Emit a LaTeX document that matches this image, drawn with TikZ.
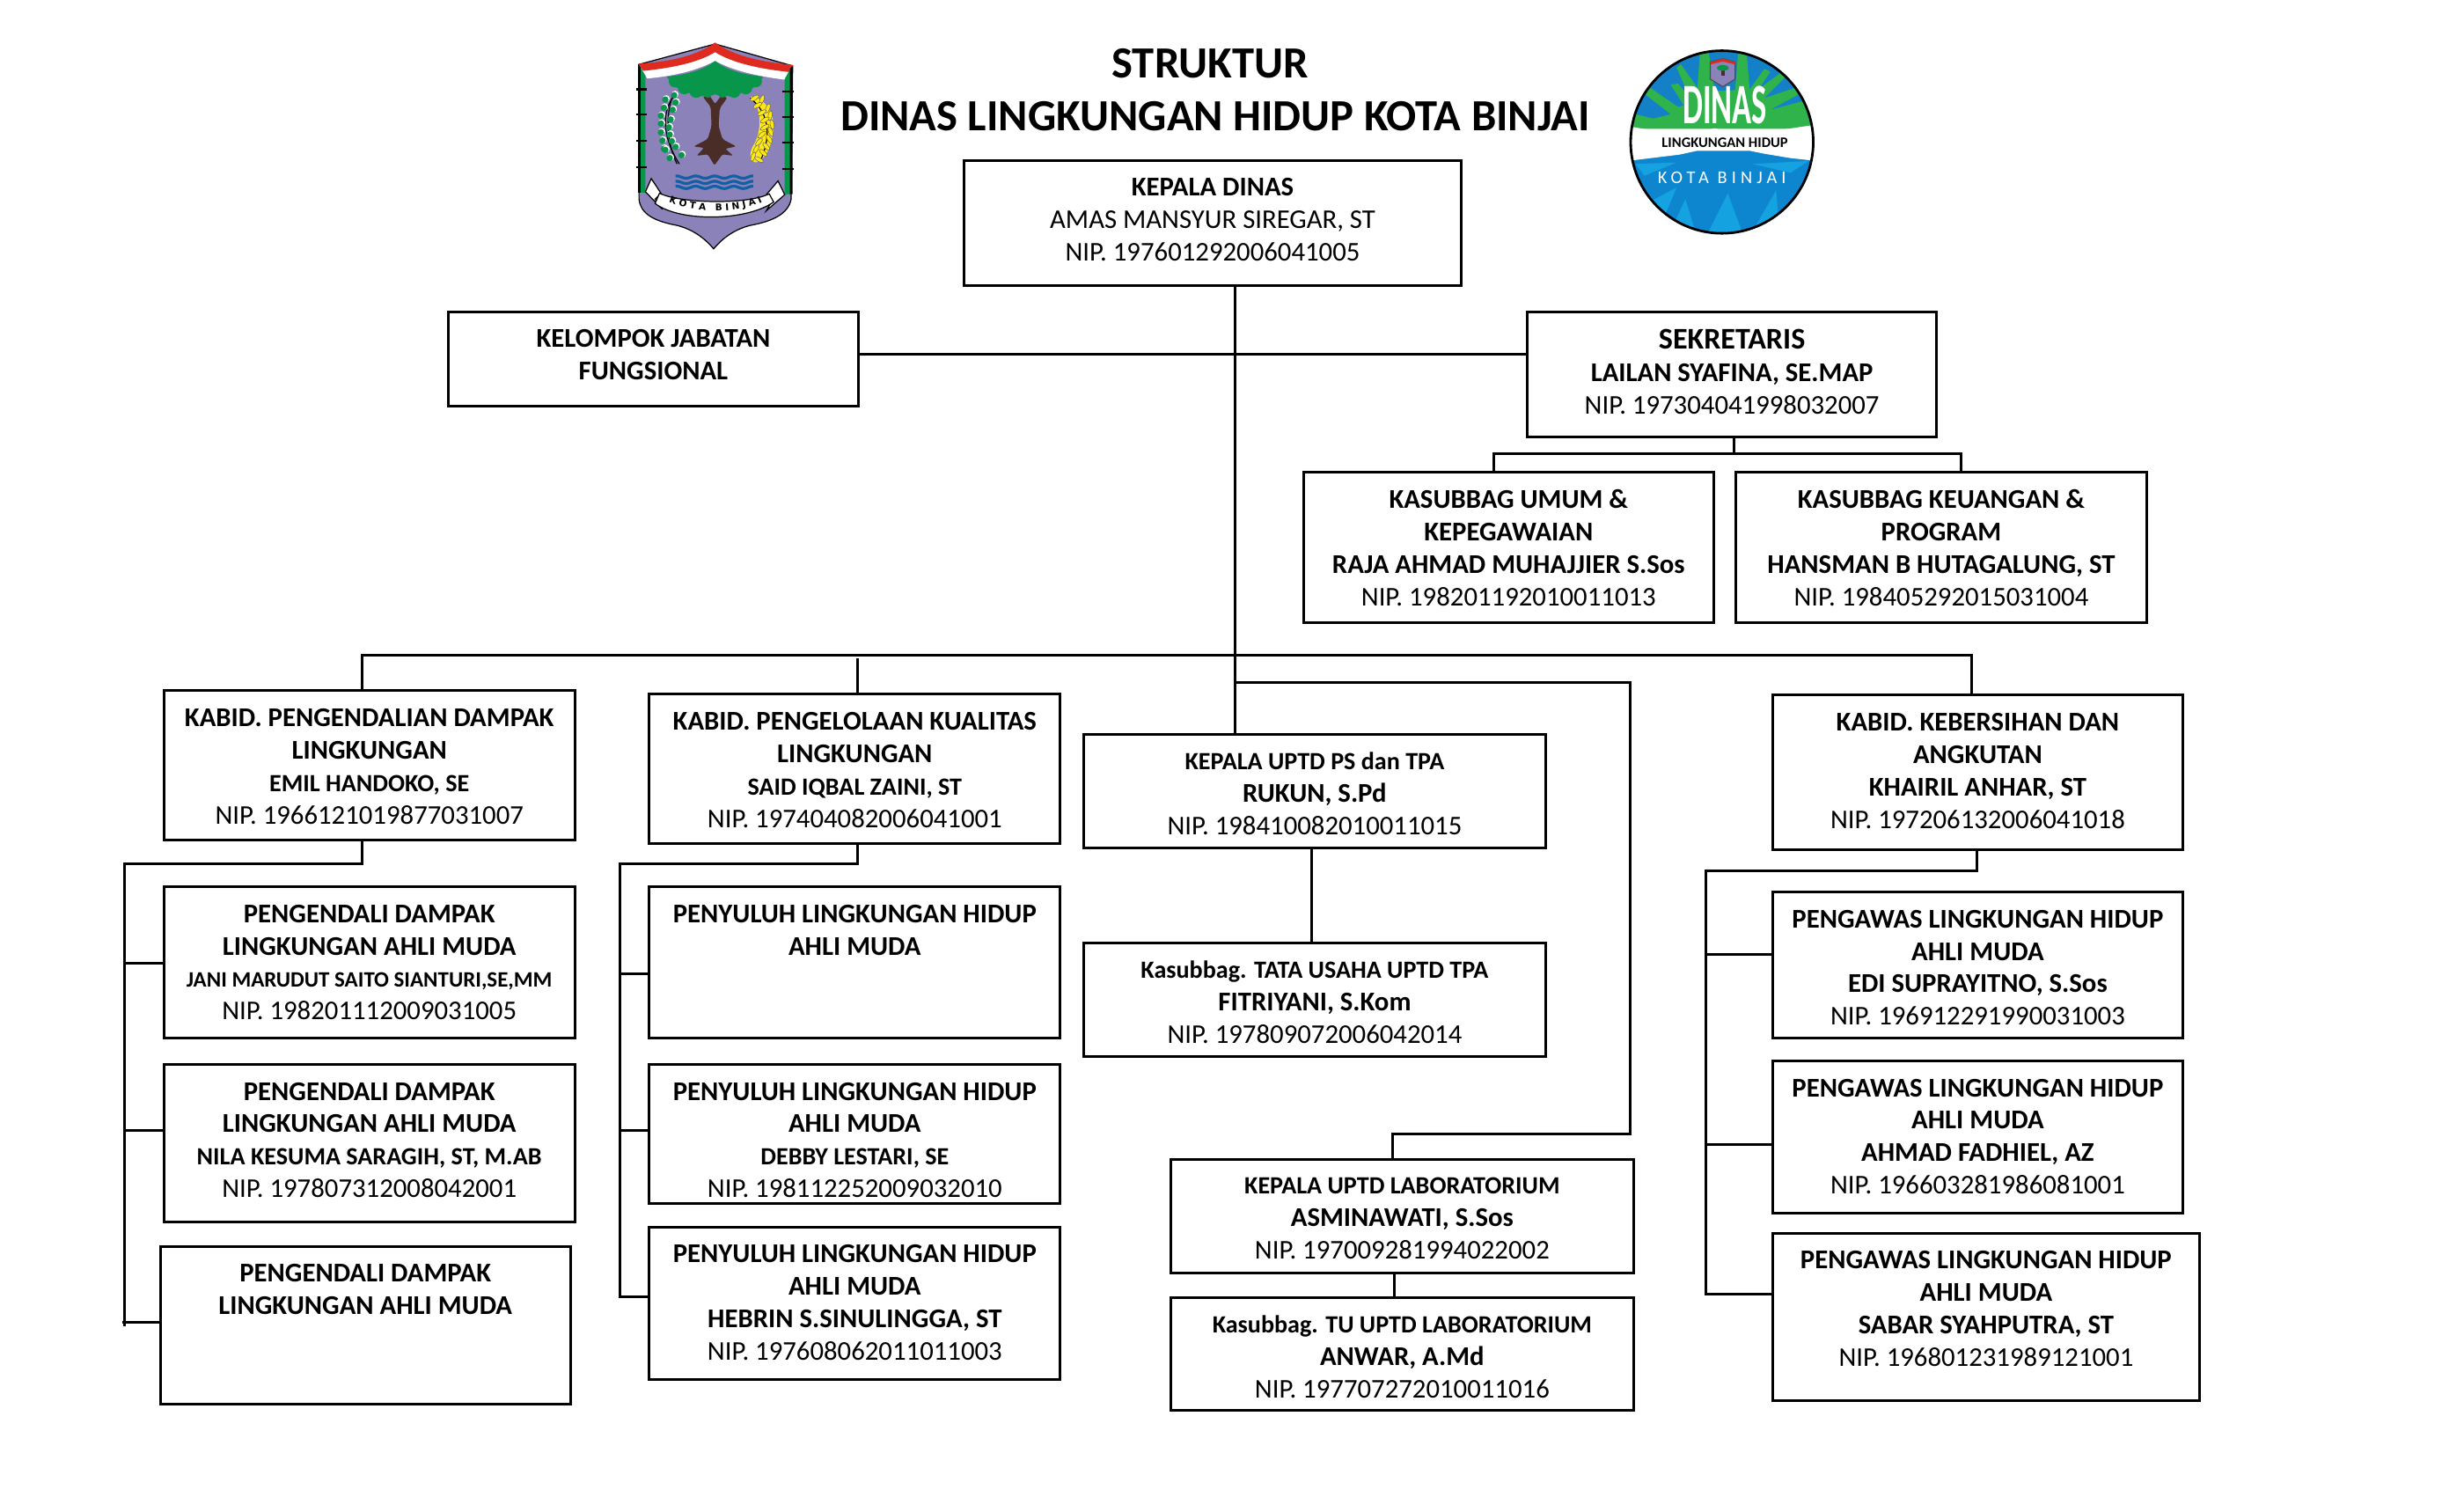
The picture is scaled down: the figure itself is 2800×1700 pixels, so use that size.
\documentclass[tikz,border=0pt]{standalone}
\usepackage{fontspec}
\setmainfont{Carlito}
\newfontfamily\djv{DejaVu Sans}
\newfontfamily\spcd[LetterSpace=25]{Carlito}
\usetikzlibrary{decorations.text}
\definecolor{crestPurple}{HTML}{8A82B8}
\definecolor{crestGreen}{HTML}{07964A}
\definecolor{crestRed}{HTML}{DF2A1F}
\definecolor{crestBrown}{HTML}{4B2D27}
\definecolor{crestBlue}{HTML}{1060A8}
\definecolor{wheat}{HTML}{FFE812}
\definecolor{dlhBlue}{HTML}{1480C8}
\definecolor{dlhGreen}{HTML}{2FB34A}
\definecolor{dlhDeep}{HTML}{0E86CF}
\definecolor{dlhLight}{HTML}{14A3E0}
\tikzset{
  orgrect/.style={draw=black,line width=0.85pt,fill=white,inner sep=0pt,anchor=north west,rectangle},
  orgtext/.style={anchor=north,inner sep=0pt,align=center,font=\fontsize{8.75}{10.5}\selectfont,
    execute at begin node={\rule{0pt}{8pt}}},
  link/.style={draw=black,line width=0.85pt,line join=miter},
  titletext/.style={font=\fontsize{14.4}{16}\selectfont\bfseries,inner sep=0pt},
  thinblack/.style={draw=black,line width=0.35pt}
}
\newcommand{\orgbox}[6]{%
  \node[orgrect,minimum width={(#4-#2)*0.01cm},minimum height={(#5-#3)*0.01cm}] (#1) at (#2,#3) {};
  \node[orgtext] (#1t) at ([yshift=-0.21cm]#1.north) {#6};
}
\newcommand{\hb}[1]{{\bfseries #1}}
\newcommand{\sm}[1]{{\fontsize{8}{10.5}\selectfont\bfseries #1}}
\newcommand{\xs}[1]{{\fontsize{7.1}{10.5}\selectfont\bfseries #1}}
\begin{document}
\begin{tikzpicture}[x=0.01cm,y=-0.01cm]
\fill[white] (0,0) rectangle (2802,1702);
\useasboundingbox (1.5,1.5) rectangle (2801.5,1701.5);

% titles
\node[titletext] (ttl1) at (1376,72) {STRUKTUR};
\node[titletext] (ttl2) at (1382,132) {DINAS LINGKUNGAN HIDUP KOTA BINJAI};

% boxes
\orgbox{kepala}{1095}{181}{1660}{323}{\hb{KEPALA DINAS}\\AMAS MANSYUR SIREGAR, ST\\NIP. 197601292006041005}
\orgbox{kelompok}{508}{353}{975}{460}{\hb{KELOMPOK JABATAN}\\\hb{FUNGSIONAL}}
\orgbox{sek}{1735}{353}{2201}{495}{{\fontsize{9.7}{10.5}\selectfont\bfseries SEKRETARIS}\\\hb{LAILAN SYAFINA, SE.MAP}\\NIP. 197304041998032007}
\orgbox{umum}{1481}{535}{1947}{706}{\hb{KASUBBAG UMUM \&}\\\hb{KEPEGAWAIAN}\\\hb{RAJA AHMAD MUHAJJIER S.Sos}\\NIP. 198201192010011013}
\orgbox{keu}{1972}{535}{2440}{706}{\hb{KASUBBAG KEUANGAN \&}\\\hb{PROGRAM}\\\hb{HANSMAN B HUTAGALUNG, ST}\\NIP. 198405292015031004}

\orgbox{bidA}{185}{784}{652}{954}{\hb{KABID. PENGENDALIAN DAMPAK}\\\hb{LINGKUNGAN}\\\sm{EMIL HANDOKO, SE}\\NIP. 1966121019877031007}
\orgbox{aOne}{185}{1007}{652}{1179}{\hb{PENGENDALI DAMPAK}\\\hb{LINGKUNGAN AHLI MUDA}\\\xs{JANI MARUDUT SAITO SIANTURI,SE,MM}\\NIP. 198201112009031005}
\orgbox{aTwo}{185}{1209}{652}{1388}{\hb{PENGENDALI DAMPAK}\\\hb{LINGKUNGAN AHLI MUDA}\\\sm{NILA KESUMA SARAGIH, ST, M.AB}\\NIP. 197807312008042001}
\orgbox{aThree}{181}{1416}{647}{1595}{\hb{PENGENDALI DAMPAK}\\\hb{LINGKUNGAN AHLI MUDA}}

\orgbox{bidB}{737}{788}{1204}{958}{\hb{KABID. PENGELOLAAN KUALITAS}\\\hb{LINGKUNGAN}\\\sm{SAID IQBAL ZAINI, ST}\\NIP. 197404082006041001}
\orgbox{bOne}{737}{1007}{1204}{1179}{\hb{PENYULUH LINGKUNGAN HIDUP}\\\hb{AHLI MUDA}}
\orgbox{bTwo}{737}{1209}{1204}{1367}{\hb{PENYULUH LINGKUNGAN HIDUP}\\\hb{AHLI MUDA}\\\sm{DEBBY LESTARI, SE}\\NIP. 198112252009032010}
\orgbox{bThree}{737}{1394}{1204}{1567}{\hb{PENYULUH LINGKUNGAN HIDUP}\\\hb{AHLI MUDA}\\\hb{HEBRIN S.SINULINGGA, ST}\\NIP. 197608062011011003}

\orgbox{uptd}{1231}{834}{1756}{963}{\sm{KEPALA UPTD PS dan TPA}\\\hb{RUKUN, S.Pd}\\NIP. 198410082010011015}
\orgbox{tata}{1231}{1071}{1756}{1200}{\sm{Kasubbag. TATA USAHA UPTD TPA}\\\hb{FITRIYANI, S.Kom}\\NIP. 197809072006042014}
\orgbox{lab}{1330}{1317}{1856}{1446}{\sm{KEPALA UPTD LABORATORIUM}\\\hb{ASMINAWATI, S.Sos}\\NIP. 197009281994022002}
\orgbox{tu}{1330}{1474}{1856}{1602}{\sm{Kasubbag. TU UPTD LABORATORIUM}\\\hb{ANWAR, A.Md}\\NIP. 197707272010011016}

\orgbox{bidE}{2014}{789}{2481}{965}{\hb{KABID. KEBERSIHAN DAN}\\\hb{ANGKUTAN}\\\hb{KHAIRIL ANHAR, ST}\\NIP. 197206132006041018}
\orgbox{eOne}{2014}{1013}{2481}{1179}{\hb{PENGAWAS LINGKUNGAN HIDUP}\\\hb{AHLI MUDA}\\\hb{EDI SUPRAYITNO, S.Sos}\\NIP. 196912291990031003}
\orgbox{eTwo}{2014}{1205}{2481}{1378}{\hb{PENGAWAS LINGKUNGAN HIDUP}\\\hb{AHLI MUDA}\\\hb{AHMAD FADHIEL, AZ}\\NIP. 196603281986081001}
\orgbox{eThree}{2014}{1401}{2500}{1591}{\hb{PENGAWAS LINGKUNGAN HIDUP}\\\hb{AHLI MUDA}\\\hb{SABAR SYAHPUTRA, ST}\\NIP. 196801231989121001}

% guide coordinates
\coordinate (xT) at (1404,0);
\coordinate (yF) at (0,403);
\coordinate (busS) at (1972,516);
\coordinate (cU) at (1699,0);
\coordinate (cK) at (2230,0);
\coordinate (yBar) at (0,745);
\coordinate (xA) at (412,0);
\coordinate (xB) at (975,0);
\coordinate (xE) at (2242,0);
\coordinate (yB) at (0,749);
\coordinate (yL) at (0,776);
\coordinate (xL) at (1854,0);
\coordinate (yLb) at (0,1289);
\coordinate (xLb) at (1584,0);
\coordinate (xTata) at (1492,0);
\coordinate (xTu) at (1586,0);
\coordinate (aBus) at (142,982);
\coordinate (aEnd) at (142,1508);
\coordinate (bBus) at (705,982);
\coordinate (bEnd) at (705,1475);
\coordinate (eBus) at (1940,990);
\coordinate (eEnd) at (1940,1472);
\coordinate (xBidE) at (2248,0);
\coordinate (yaOne) at (0,1095);
\coordinate (yaTwo) at (0,1285);
\coordinate (yaThree) at (0,1504);
\coordinate (xaTick) at (139,0);
\coordinate (ybOne) at (0,1107);
\coordinate (ybTwo) at (0,1285);
\coordinate (yeOne) at (0,1085);
\coordinate (yeTwo) at (0,1301);

% connectors
\draw[link] (kepala.south -| xT) -- (uptd.north -| xT);
\draw[link] (kelompok.east |- yF) -- (sek.west |- yF);
\draw[link] (sek.south -| busS) -- (busS);
\draw[link] (umum.north -| cU) -- (cU |- busS) -- (cK |- busS) -- (keu.north -| cK);
\draw[link] (bidA.north -| xA) -- (xA |- yBar) -- (xE |- yBar) -- (bidE.north -| xE);
\draw[link] (xB |- yB) -- (bidB.north -| xB);
\draw[link] (xT |- yL) -- (xL |- yL) -- (xL |- yLb) -- (xLb |- yLb) -- (lab.north -| xLb);
\draw[link] (uptd.south -| xTata) -- (tata.north -| xTata);
\draw[link] (lab.south -| xTu) -- (tu.north -| xTu);
\draw[link] (bidA.south -| xA) -- (xA |- aBus) -- (aBus) -- (aEnd);
\draw[link] (aBus |- yaOne) -- (aOne.west |- yaOne);
\draw[link] (aBus |- yaTwo) -- (aTwo.west |- yaTwo);
\draw[link] (xaTick |- yaThree) -- (aThree.west |- yaThree);
\draw[link] (bidB.south -| xB) -- (xB |- bBus) -- (bBus) -- (bEnd) -- (bThree.west |- bEnd);
\draw[link] (bBus |- ybOne) -- (bOne.west |- ybOne);
\draw[link] (bBus |- ybTwo) -- (bTwo.west |- ybTwo);
\draw[link] (bidE.south -| xBidE) -- (xBidE |- eBus) -- (eBus) -- (eEnd) -- (eThree.west |- eEnd);
\draw[link] (eBus |- yeOne) -- (eOne.west |- yeOne);
\draw[link] (eBus |- yeTwo) -- (eTwo.west |- yeTwo);

% ---------- city crest ----------
\begin{scope}[shift={(710,30)},x=0.003333cm,y=-0.003333cm]
  \filldraw[fill=crestPurple,thinblack] (50,130) -- (310,60) -- (575,135) -- (570,590)
     .. controls (560,640) and (510,665) .. (430,680) .. controls (370,695) and (330,730) .. (305,760)
     .. controls (280,730) and (240,695) .. (180,680) .. controls (100,665) and (55,640) .. (50,590) -- cycle;
  \fill[white] (62,150) .. controls (160,135) and (250,120) .. (310,85) .. controls (370,120) and (460,140) .. (565,155)
     -- (548,182) .. controls (450,170) and (370,150) .. (310,118) .. controls (250,150) and (170,170) .. (78,178) -- cycle;
  \fill[crestRed] (48,128) .. controls (160,120) and (250,100) .. (310,55) .. controls (370,100) and (470,122) .. (577,132)
     -- (565,156) .. controls (460,145) and (370,125) .. (310,88) .. controls (250,125) and (160,142) .. (65,152) -- cycle;
  % trunk
  \fill[crestBrown,rounded corners=0.6pt] (268,240) -- (295,275) -- (298,340) -- (285,385) -- (237,410) -- (272,415) -- (247,442)
     -- (285,437) -- (308,475) -- (335,437) -- (372,442) -- (345,418) -- (382,410) -- (335,385) -- (322,340) -- (326,280)
     -- (352,243) -- (330,238) -- (310,265) -- (292,238) -- cycle;
  % canopy
  \fill[crestGreen] (310,118) .. controls (270,150) and (210,165) .. (145,172) -- (170,205) -- (250,240) -- (300,235) -- (320,235) -- (370,240) -- (450,205) -- (475,172)
     .. controls (410,165) and (350,150) .. (310,118) -- cycle;
  \foreach \cx/\cy/\cr in {172/188/20,205/210/22,245/222/22,285/228/16,335/228/16,375/222/22,415/210/22,450/188/20}
     \fill[crestGreen] (\cx,\cy) circle[radius=\cr];
  \fill[crestPurple] (300,238) -- (310,232) -- (322,238) -- (310,262) -- cycle;
  % bamboo posts
  \fill[crestGreen] (50,132) -- (72,170) -- (72,568) -- (50,568) -- cycle;
  \fill[black] (47,128) -- (55,140) -- (55,568) -- (47,568) -- cycle;
  \fill[crestGreen] (572,135) -- (548,180) -- (548,573) -- (572,573) -- cycle;
  \fill[black] (566,145) -- (575,135) -- (575,573) -- (566,573) -- cycle;
  \foreach \ty in {215,300,392,480} \draw[black,line width=0.6pt] (40,\ty) -- (78,\ty);
  \foreach \ty in {222,310,398,487} \draw[black,line width=0.6pt] (540,\ty) -- (580,\ty);
  % leaf sprig
  \draw[black,line width=0.35pt] (188,470) .. controls (130,380) and (125,290) .. (172,235);
  \draw[black,line width=0.35pt] (180,470) .. controls (145,400) and (140,300) .. (165,240);
  \foreach \lx/\ly in {170/235,140/250,175/260,135/278,165/285,125/305,158/318,125/332,152/345,125/362,155/370,130/390,162/392,135/418,175/412,195/440,140/422,155/450}{
     \fill[white] (\lx+3,\ly-3) circle[radius=12];
     \fill[crestGreen] (\lx,\ly) circle[radius=11];
  }
  % wheat
  \fill[wheat] (430,240) .. controls (480,240) and (510,300) .. (510,340) .. controls (505,400) and (490,450) .. (450,465)
     .. controls (425,460) and (425,430) .. (445,400) .. controls (470,350) and (470,280) .. (430,240) -- cycle;
  \draw[black,line width=0.35pt] (430,245) .. controls (500,300) and (500,380) .. (465,460);
  \foreach \wx/\wy/\wa in {445/245/30,470/250/70,455/270/30,490/280/70,470/295/30,498/305/80,480/320/30,505/335/100,480/345/30,500/360/110,470/370/40,495/385/120,460/395/50,485/410/130,450/420/60,475/432/140,440/445/70,460/455/150}
     \filldraw[fill=wheat,draw=black!60,line width=0.15pt,rotate around={\wa:(\wx,\wy)}] (\wx,\wy) ellipse[x radius=17,y radius=7];
  % water
  \foreach \wy in {515,533,550}
     \draw[crestBlue,line width=0.9pt] plot[domain=175:440,samples=70,smooth] (\x,{\wy+4*sin(\x*5.54)});
  % ribbon
  \filldraw[fill=white,thinblack] (92,520) -- (72,565) -- (130,625) -- (105,590) -- (125,570) -- cycle;
  \filldraw[fill=white,thinblack] (525,528) -- (548,575) -- (485,630) -- (505,595) -- (485,575) -- cycle;
  \filldraw[fill=white,thinblack] (120,570) .. controls (190,605) and (420,610) .. (495,572) -- (510,600)
     .. controls (420,665) and (190,670) .. (105,605) -- cycle;
  \path[decorate,decoration={text along path,text align={fit to path},
     text={|\djv\bfseries\fontsize{3}{3}\selectfont|KOTA BINJAI}}]
     (152,600) .. controls (230,640) and (390,640) .. (472,600);
\end{scope}

% ---------- agency badge ----------
\begin{scope}[shift={(1850,40)},x=0.003333cm,y=-0.003333cm]
  \begin{scope}
    \clip (325,365) circle[radius=312];
    \fill[dlhBlue] (0,40) rectangle (650,320);
    \fill[dlhGreen] (10,320) -- (10,265) -- (90,285) -- (150,270) -- (60,200) -- (80,180) -- (175,245) -- (195,240)
       -- (150,170) -- (175,165) -- (215,215) -- (170,110) -- (185,100) -- (245,185) -- (325,190) -- (420,185) -- (470,115) -- (490,125) -- (450,185)
       -- (530,125) -- (545,140) -- (470,215) -- (590,175) -- (600,195) -- (490,255) -- (640,215) -- (640,320) -- cycle;
    \fill[dlhGreen] (240,190) -- (250,60) -- (280,60) -- (300,190) -- cycle;
    \fill[dlhGreen] (370,190) -- (380,60) -- (410,70) -- (420,190) -- cycle;
    \fill[dlhDeep] (0,390) rectangle (650,690);
    \fill[dlhLight] (140,690) -- (200,560) -- (240,690) -- cycle;
    \fill[dlhLight] (270,690) -- (345,540) -- (400,690) -- cycle;
    \fill[dlhLight] (430,670) -- (510,530) -- (520,650) -- cycle;
    \fill[dlhLight] (60,580) -- (170,520) -- (120,640) -- cycle;
    \fill[dlhLight] (30,440) -- (170,435) -- (60,480) -- cycle;
    \fill[dlhLight] (430,440) -- (620,430) -- (560,470) -- cycle;
    \fill[white] (0,310) -- (100,328) -- (240,335) -- (300,318) -- (370,335) -- (450,335) -- (650,305)
       -- (650,430) -- (560,420) -- (470,405) -- (420,395) -- (240,395) -- (180,408) -- (0,430) -- cycle;
  \end{scope}
  \draw[black,line width=0.8pt] (325,365) circle[radius=312];
  % small crest
  \filldraw[fill=crestPurple,draw=black!70,line width=0.3pt] (285,92) -- (328,80) -- (370,92) -- (370,150) -- (328,176) -- (285,150) -- cycle;
  \fill[crestRed] (285,92) -- (328,80) -- (370,92) -- (370,100) -- (328,90) -- (285,100) -- cycle;
  \fill[crestBrown] (322,105) rectangle (334,138);
  \fill[crestGreen] (328,112) ellipse[x radius=20,y radius=10];
  \node[inner sep=0pt,text=white,font=\fontsize{18.5}{20}\selectfont\bfseries] (dlhA) at (335,240) {\scalebox{0.56}[1]{DINAS}};
  \node[inner sep=0pt,text=black,font=\fontsize{4.7}{5}\selectfont\bfseries] (dlhB) at (335,367) {LINGKUNGAN HIDUP};
  \node[inner sep=0pt,text=white,font=\spcd\fontsize{5.8}{6}\selectfont] (dlhC) at (325,488) {KOTA BINJAI};
\end{scope}
\end{tikzpicture}
\end{document}
